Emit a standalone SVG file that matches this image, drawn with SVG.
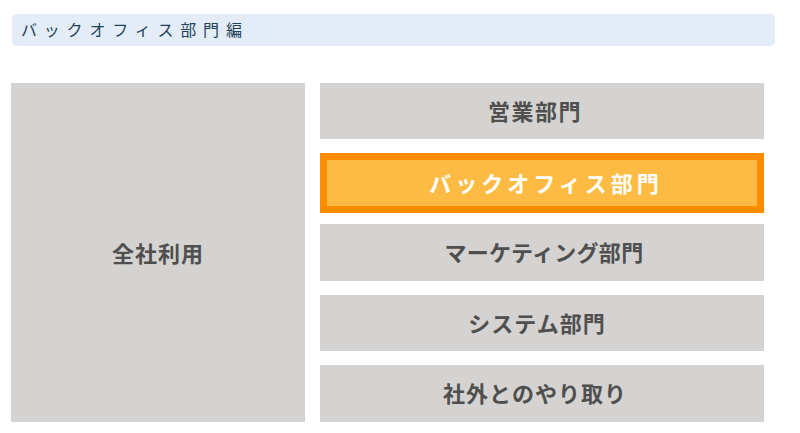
<svg xmlns="http://www.w3.org/2000/svg" width="800" height="433" viewBox="0 0 800 433">
<style>
.box{fill:#d4d3d1}
.lbl{font-family:"Noto Sans CJK JP","Noto Sans",sans-serif;font-size:22px;font-weight:bold;fill:#4f4f4f;text-anchor:middle}
.hdr{font-family:"Noto Sans CJK JP","Noto Sans",sans-serif;font-size:16px;fill:#1f4258;letter-spacing:6.8px}
</style>
<rect width="800" height="433" fill="#ffffff"/>
<g id="header">
<rect x="12" y="14" width="763" height="32" rx="5" fill="#e3ecf7"/>
<text class="hdr" x="21" y="36">バックオフィス部門編</text>
</g>
<g id="zensha">
<rect class="box" x="11" y="83" width="294" height="339"/>
<text class="lbl" x="158" y="262" style="letter-spacing:1px">全社利用</text>
</g>
<g id="eigyo">
<rect class="box" x="320" y="83" width="444" height="56"/>
<text class="lbl" x="535" y="120" style="letter-spacing:1.5px">営業部門</text>
</g>
<g id="backoffice">
<rect x="323.5" y="156.5" width="437" height="53" fill="#fdbb44" stroke="#ff8c00" stroke-width="7"/>
<text class="lbl" x="546" y="192" style="fill:#ffffff;letter-spacing:4px">バックオフィス部門</text>
</g>
<g id="marketing">
<rect class="box" x="320" y="224" width="444" height="57"/>
<text class="lbl" x="544" y="261" style="letter-spacing:0.3px">マーケティング部門</text>
</g>
<g id="system">
<rect class="box" x="320" y="295" width="444" height="56"/>
<text class="lbl" x="537" y="332" style="letter-spacing:1px">システム部門</text>
</g>
<g id="shagai">
<rect class="box" x="320" y="365" width="444" height="57"/>
<text class="lbl" x="535" y="402" style="letter-spacing:1px">社外とのやり取り</text>
</g>
<g id="connectors"></g>
</svg>
